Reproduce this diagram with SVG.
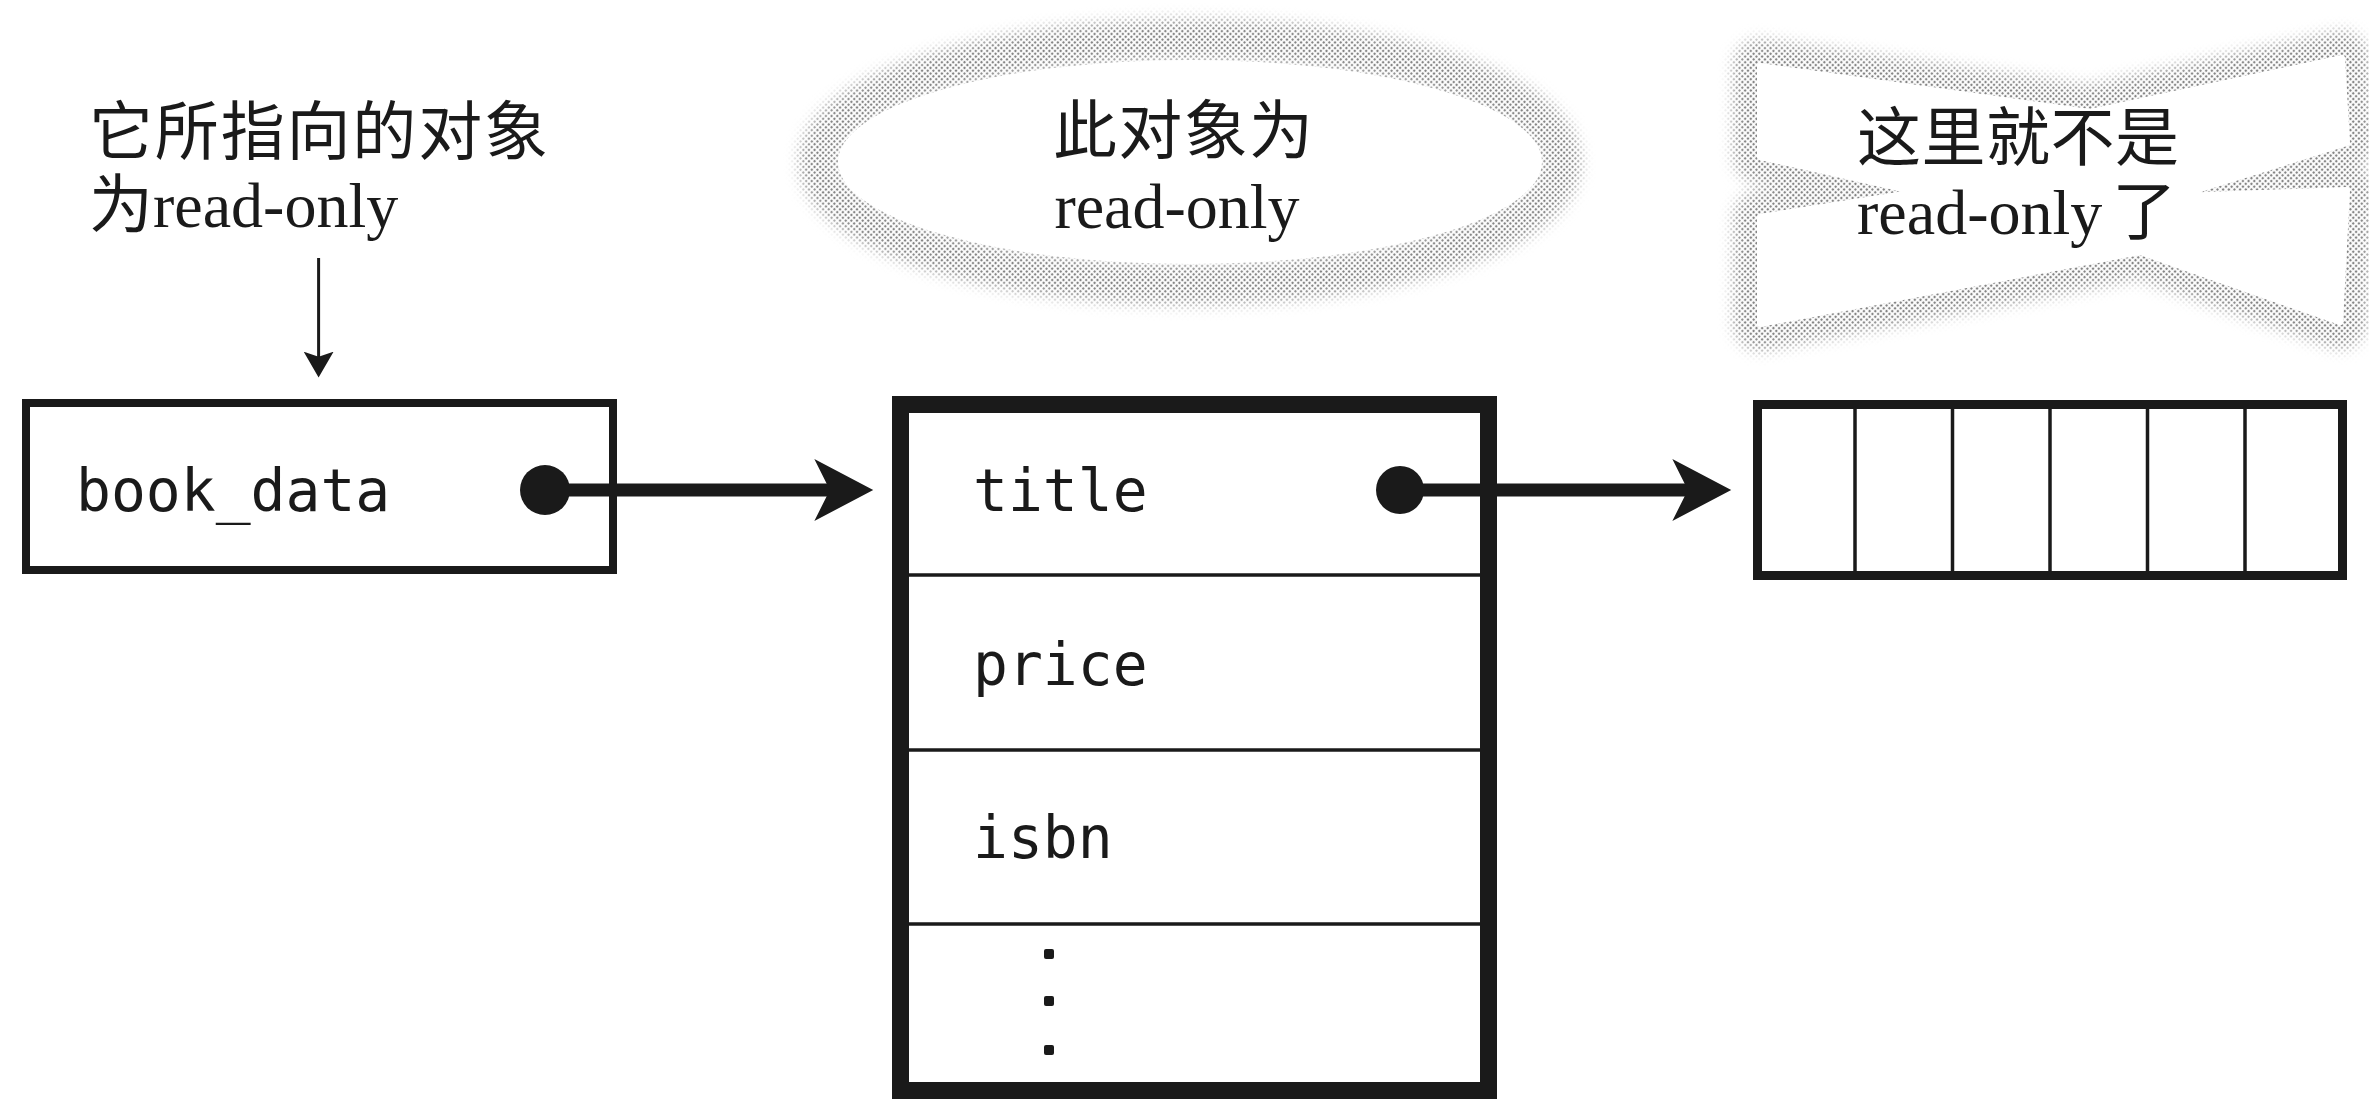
<svg xmlns="http://www.w3.org/2000/svg" width="2369" height="1099" viewBox="0 0 2369 1099">
<style>
.lbl{font-family:"Liberation Serif","Noto Sans CJK SC",serif;font-size:64px;fill:#1a1a1a}
.mono{font-family:"DejaVu Sans Mono","Liberation Mono",monospace;font-size:58px;fill:#1a1a1a}
.box{fill:#fff;stroke:#1a1a1a}
.div{stroke:#1a1a1a;stroke-width:3.5}
.halo{fill:none;stroke:#fff;stroke-linejoin:round}
.conn{stroke:#1a1a1a;fill:none}
.dot{fill:#1a1a1a}
</style>
<defs>
<pattern id="ht" patternUnits="userSpaceOnUse" width="4" height="4" patternTransform="rotate(45)">
<circle cx="2" cy="2" r="1.25" fill="#858585"/>
</pattern>
<filter id="blur" x="-20%" y="-40%" width="140%" height="180%"><feGaussianBlur stdDeviation="7"/></filter>
<mask id="ellMask" maskUnits="userSpaceOnUse" x="0" y="0" width="2369" height="420">
<rect x="0" y="0" width="2369" height="420" fill="#000"/>
<ellipse class="halo" cx="1190" cy="162" rx="370" ry="122" stroke-width="42" filter="url(#blur)"/>
</mask>
<mask id="xMask" maskUnits="userSpaceOnUse" x="1600" y="0" width="769" height="420">
<rect x="1600" y="0" width="769" height="420" fill="#000"/>
<polygon class="halo" stroke-width="54" filter="url(#blur)" points="1760,66 2090,112 2342,58 2347,143 2178,196 2347,190 2340,322 2140,252 1760,324 1760,217 1917,192 1760,157"/>
</mask>
<marker id="bigArrow" markerUnits="userSpaceOnUse" markerWidth="60" markerHeight="62" viewBox="0 0 57 60" refX="20" refY="30" orient="auto">
<path d="M0,0 L57,30 L0,60 L15,30 Z" fill="#1a1a1a"/>
</marker>
<marker id="smallArrow" markerUnits="userSpaceOnUse" markerWidth="26" markerHeight="30" viewBox="0 0 25 29" refX="10" refY="14.5" orient="auto">
<path d="M0,0 L25,14.5 L0,29 L5,14.5 Z" fill="#1a1a1a"/>
</marker>
</defs>
<rect width="2369" height="1099" fill="#fff"/>

<g id="note-pointer">
<text class="lbl" x="89" y="154" textLength="459" lengthAdjust="spacing">它所指向的对象</text>
<text class="lbl" x="89" y="227">为read-only</text>
</g>

<g id="note-object">
<rect x="0" y="0" width="2369" height="420" fill="url(#ht)" mask="url(#ellMask)"/>
<ellipse cx="1190" cy="162" rx="352" ry="102" fill="#fff"/>
<text class="lbl" x="1183" y="153" text-anchor="middle" textLength="260" lengthAdjust="spacing">此对象为</text>
<text class="lbl" x="1177" y="228" text-anchor="middle">read-only</text>
</g>

<g id="note-array">
<rect x="1600" y="0" width="769" height="420" fill="url(#ht)" mask="url(#xMask)"/>
<polygon fill="#fff" stroke="#fff" stroke-width="6" stroke-linejoin="round" points="1760,66 2090,112 2342,58 2347,143 2178,196 2347,190 2340,322 2140,252 1760,324 1760,217 1917,192 1760,157"/>
<text class="lbl" x="1857" y="160" textLength="322" lengthAdjust="spacing">这里就不是</text>
<text class="lbl" x="1857" y="234">read-only<tspan dx="10">了</tspan></text>
</g>

<g id="book_data">
<rect class="box" x="26" y="403" width="587" height="167" stroke-width="8"/>
<text class="mono" x="76" y="511">book_data</text>
</g>

<g id="book-struct">
<rect class="box" x="900.5" y="404.5" width="588" height="686" stroke-width="17"/>
<line class="div" x1="909" y1="575" x2="1480" y2="575"/>
<line class="div" x1="909" y1="750" x2="1480" y2="750"/>
<line class="div" x1="909" y1="924" x2="1480" y2="924"/>
<text class="mono" x="973" y="511">title</text>
<text class="mono" x="973" y="685">price</text>
<text class="mono" x="973" y="858">isbn</text>
<rect class="dot" x="1044" y="949" width="10" height="10" rx="2"/>
<rect class="dot" x="1044" y="996" width="10" height="10" rx="2"/>
<rect class="dot" x="1044" y="1045" width="10" height="10" rx="2"/>
</g>

<g id="title-array">
<rect class="box" x="1757.5" y="404.5" width="585" height="171" stroke-width="9"/>
<line class="div" x1="1855" y1="409" x2="1855" y2="571"/>
<line class="div" x1="1952.5" y1="409" x2="1952.5" y2="571"/>
<line class="div" x1="2050" y1="409" x2="2050" y2="571"/>
<line class="div" x1="2147.5" y1="409" x2="2147.5" y2="571"/>
<line class="div" x1="2245" y1="409" x2="2245" y2="571"/>
</g>

<g id="connectors">
<line class="conn" x1="318.6" y1="258" x2="318.6" y2="362" stroke-width="3" marker-end="url(#smallArrow)"/>
<circle class="dot" cx="545" cy="490" r="25"/>
<line class="conn" x1="545" y1="490" x2="835" y2="490" stroke-width="13" marker-end="url(#bigArrow)"/>
<circle class="dot" cx="1400" cy="490" r="24"/>
<line class="conn" x1="1400" y1="490" x2="1693" y2="490" stroke-width="13" marker-end="url(#bigArrow)"/>
</g>
</svg>
